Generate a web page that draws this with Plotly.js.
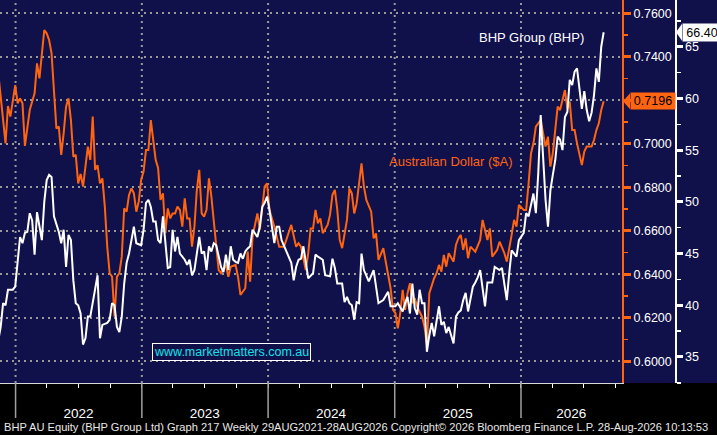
<!DOCTYPE html>
<html>
<head>
<meta charset="utf-8">
<script src="https://cdn.plot.ly/plotly-3.0.1.min.js"></script>
<style>
html,body{margin:0;padding:0;background:#000;}
#chart{width:717px;height:435px;}
</style>
</head>
<body>
<div id="chart"></div>
<script>
// ---- Australian Dollar ($A) weekly closes ----
const audDates = ['2021-11-12','2021-12-03','2021-12-10','2021-12-17','2021-12-31','2022-01-07','2022-01-14','2022-01-21','2022-01-28','2022-02-04','2022-02-11','2022-02-25','2022-03-04','2022-03-11','2022-03-18','2022-03-25','2022-04-01','2022-04-08','2022-04-15','2022-04-22','2022-04-29','2022-05-06','2022-05-13','2022-05-20','2022-05-27','2022-06-03','2022-06-10','2022-06-17','2022-06-24','2022-07-01','2022-07-08','2022-07-15','2022-07-22','2022-07-29','2022-08-05','2022-08-12','2022-08-19','2022-08-26','2022-09-02','2022-09-09','2022-09-16','2022-09-23','2022-09-30','2022-10-07','2022-10-14','2022-10-21','2022-10-28','2022-11-04','2022-11-11','2022-11-18','2022-11-25','2022-12-02','2022-12-09','2022-12-16','2022-12-23','2022-12-30','2023-01-06','2023-01-13','2023-01-20','2023-01-27','2023-02-03','2023-02-10','2023-02-17','2023-02-24','2023-03-03','2023-03-10','2023-03-17','2023-03-24','2023-03-31','2023-04-07','2023-04-14','2023-04-21','2023-04-28','2023-05-05','2023-05-12','2023-05-19','2023-05-26','2023-06-02','2023-06-09','2023-06-16','2023-06-23','2023-06-30','2023-07-07','2023-07-14','2023-07-21','2023-07-28','2023-08-04','2023-08-11','2023-08-18','2023-09-01','2023-09-08','2023-09-15','2023-09-29','2023-10-06','2023-10-13','2023-10-20','2023-10-27','2023-11-03','2023-11-10','2023-11-17','2023-12-01','2023-12-08','2023-12-22','2023-12-29','2024-01-05','2024-01-19','2024-02-02','2024-02-16','2024-02-23','2024-03-08','2024-03-22','2024-03-29','2024-04-05','2024-04-19','2024-04-26','2024-05-03','2024-05-10','2024-05-17','2024-05-24','2024-05-31','2024-06-07','2024-06-21','2024-06-28','2024-07-05','2024-07-12','2024-07-19','2024-07-26','2024-08-02','2024-08-16','2024-08-23','2024-08-30','2024-09-06','2024-09-13','2024-09-27','2024-10-04','2024-10-11','2024-10-25','2024-11-01','2024-11-08','2024-11-15','2024-11-29','2024-12-13','2024-12-20','2024-12-27','2025-01-03','2025-01-10','2025-01-17','2025-01-24','2025-01-31','2025-02-07','2025-02-14','2025-02-21','2025-02-28','2025-03-07','2025-03-21','2025-03-28','2025-04-04','2025-04-11','2025-04-25','2025-05-02','2025-05-09','2025-05-16','2025-05-23','2025-05-30','2025-06-06','2025-06-20','2025-06-27','2025-07-04','2025-07-11','2025-07-18','2025-07-25','2025-08-01','2025-08-08','2025-08-22','2025-09-05','2025-09-12','2025-09-26','2025-10-03','2025-10-10','2025-10-24','2025-10-31','2025-11-14','2025-11-21','2025-12-05','2025-12-12','2025-12-19','2025-12-26','2026-01-09','2026-01-16','2026-01-23','2026-01-30','2026-02-06','2026-02-13','2026-02-27','2026-03-06','2026-03-13','2026-03-20','2026-03-27','2026-04-03','2026-04-10','2026-04-17','2026-04-24','2026-05-01','2026-05-08','2026-05-15','2026-05-22','2026-05-29','2026-06-05','2026-06-12','2026-06-19','2026-06-26','2026-07-03','2026-07-10','2026-07-24','2026-07-31','2026-08-07','2026-08-14','2026-08-21','2026-08-28'];
const audValues = [0.7324,0.7002,0.7174,0.7125,0.7270,0.7186,0.7209,0.7186,0.6990,0.7079,0.7155,0.7232,0.7370,0.7301,0.7400,0.7523,0.7508,0.7477,0.7416,0.7217,0.7071,0.7079,0.6949,0.7048,0.7171,0.7209,0.7109,0.6941,0.6949,0.6818,0.6861,0.6803,0.6887,0.6987,0.6926,0.7125,0.6880,0.6902,0.6818,0.6841,0.6711,0.6527,0.6405,0.6389,0.6205,0.6389,0.6405,0.6481,0.6703,0.6688,0.6765,0.6795,0.6772,0.6688,0.6734,0.6834,0.6872,0.6971,0.6971,0.7109,0.7017,0.6926,0.6889,0.6742,0.6772,0.6589,0.6703,0.6657,0.6680,0.6680,0.6711,0.6696,0.6619,0.6749,0.6657,0.6657,0.6527,0.6619,0.6788,0.6880,0.6680,0.6665,0.6696,0.6841,0.6757,0.6650,0.6558,0.6420,0.6405,0.6443,0.6389,0.6435,0.6443,0.6389,0.6305,0.6320,0.6336,0.6504,0.6366,0.6573,0.6680,0.6604,0.6803,0.6818,0.6696,0.6619,0.6527,0.6527,0.6558,0.6627,0.6527,0.6543,0.6527,0.6420,0.6497,0.6611,0.6611,0.6696,0.6634,0.6657,0.6589,0.6627,0.6673,0.6765,0.6788,0.6696,0.6558,0.6520,0.6650,0.6795,0.6772,0.6680,0.6726,0.6910,0.6803,0.6742,0.6688,0.6565,0.6588,0.6466,0.6520,0.6389,0.6336,0.6236,0.6221,0.6152,0.6221,0.6328,0.6236,0.6313,0.6359,0.6267,0.6290,0.6251,0.6205,0.6159,0.6075,0.6313,0.6382,0.6405,0.6443,0.6412,0.6489,0.6435,0.6497,0.6458,0.6535,0.6565,0.6581,0.6512,0.6565,0.6474,0.6527,0.6504,0.6558,0.6650,0.6558,0.6611,0.6481,0.6512,0.6550,0.6497,0.6458,0.6581,0.6650,0.6619,0.6719,0.6696,0.6696,0.6818,0.6956,0.7002,0.7079,0.7109,0.7048,0.6987,0.7033,0.6895,0.6956,0.7063,0.7171,0.7155,0.7201,0.7247,0.7163,0.7194,0.7063,0.7063,0.7002,0.6956,0.6902,0.6964,0.6987,0.6987,0.7017,0.7063,0.7094,0.7155,0.7196];

// ---- BHP Group (BHP) weekly closes ----
const bhpDates = ['2021-11-12','2021-11-19','2021-11-26','2021-12-03','2021-12-10','2021-12-24','2021-12-31','2022-01-07','2022-01-14','2022-01-21','2022-01-28','2022-02-04','2022-02-11','2022-02-18','2022-02-25','2022-03-04','2022-03-11','2022-03-18','2022-03-25','2022-04-01','2022-04-08','2022-04-15','2022-04-22','2022-04-29','2022-05-06','2022-05-13','2022-05-20','2022-05-27','2022-06-03','2022-06-10','2022-06-17','2022-06-24','2022-07-01','2022-07-08','2022-07-15','2022-07-22','2022-07-29','2022-08-05','2022-08-19','2022-08-26','2022-09-02','2022-09-09','2022-09-23','2022-09-30','2022-10-07','2022-10-14','2022-10-21','2022-10-28','2022-11-04','2022-11-11','2022-11-18','2022-11-25','2022-12-09','2022-12-16','2022-12-30','2023-01-06','2023-01-13','2023-01-20','2023-01-27','2023-02-03','2023-02-10','2023-02-17','2023-02-24','2023-03-03','2023-03-17','2023-03-24','2023-03-31','2023-04-07','2023-04-14','2023-04-21','2023-05-05','2023-05-12','2023-05-19','2023-05-26','2023-06-02','2023-06-09','2023-06-16','2023-06-23','2023-06-30','2023-07-07','2023-07-14','2023-07-21','2023-07-28','2023-08-04','2023-08-18','2023-08-25','2023-09-01','2023-09-08','2023-09-15','2023-09-22','2023-09-29','2023-10-06','2023-10-13','2023-10-20','2023-10-27','2023-11-03','2023-11-10','2023-11-17','2023-12-01','2023-12-08','2023-12-15','2023-12-22','2023-12-29','2024-01-05','2024-01-19','2024-01-26','2024-02-02','2024-02-09','2024-02-16','2024-03-01','2024-03-08','2024-03-15','2024-03-22','2024-03-29','2024-04-05','2024-04-12','2024-04-19','2024-04-26','2024-05-10','2024-05-17','2024-05-24','2024-06-07','2024-06-14','2024-06-28','2024-07-05','2024-07-12','2024-07-19','2024-08-02','2024-08-09','2024-08-16','2024-08-23','2024-08-30','2024-09-06','2024-09-13','2024-09-20','2024-09-27','2024-10-04','2024-10-18','2024-11-01','2024-11-15','2024-11-29','2024-12-13','2024-12-20','2025-01-03','2025-01-10','2025-01-24','2025-01-31','2025-02-07','2025-02-14','2025-02-21','2025-02-28','2025-03-07','2025-03-14','2025-03-21','2025-03-28','2025-04-04','2025-04-11','2025-04-18','2025-04-25','2025-05-02','2025-05-09','2025-05-16','2025-05-23','2025-05-30','2025-06-06','2025-06-20','2025-06-27','2025-07-04','2025-07-11','2025-07-18','2025-07-25','2025-08-01','2025-08-08','2025-08-15','2025-08-22','2025-08-29','2025-09-05','2025-09-12','2025-09-19','2025-09-26','2025-10-03','2025-10-10','2025-10-17','2025-10-31','2025-11-07','2025-11-14','2025-11-21','2025-11-28','2025-12-05','2025-12-19','2025-12-26','2026-01-09','2026-01-16','2026-01-23','2026-02-06','2026-02-13','2026-02-20','2026-02-27','2026-03-06','2026-03-13','2026-03-20','2026-03-27','2026-04-03','2026-04-10','2026-04-17','2026-04-24','2026-05-01','2026-05-08','2026-05-15','2026-05-22','2026-05-29','2026-06-05','2026-06-12','2026-06-19','2026-06-26','2026-07-03','2026-07-10','2026-07-17','2026-07-24','2026-07-31','2026-08-07','2026-08-14','2026-08-21','2026-08-28'];
const bhpValues = [36.6,37.9,40.2,40.0,41.5,41.5,41.8,44.4,46.6,46.0,47.0,47.1,48.9,48.2,44.9,49.0,47.4,46.3,50.0,52.1,52.6,52.4,48.6,47.9,47.1,46.0,47.3,43.7,46.8,46.3,42.4,40.2,40.0,39.2,36.2,36.8,38.9,38.9,41.8,42.9,36.8,38.1,38.3,38.6,40.2,40.0,37.9,37.4,38.9,42.1,44.1,45.0,47.6,46.0,45.8,47.3,49.9,50.2,49.5,48.1,48.1,46.3,46.0,48.6,43.6,43.7,47.3,45.2,46.6,45.0,44.4,43.9,44.4,42.9,43.4,45.0,46.6,45.0,45.2,43.4,45.7,45.2,46.0,45.8,43.7,43.2,44.9,43.4,45.7,44.4,44.2,44.1,45.0,44.5,45.2,45.5,45.7,47.3,46.6,47.6,49.5,49.9,50.5,49.2,46.0,47.6,47.6,46.3,45.7,44.7,44.1,42.4,43.7,44.4,44.5,45.7,44.1,42.6,43.1,44.9,44.7,44.4,42.9,42.8,44.5,43.6,42.1,42.1,40.3,40.8,40.2,40.0,38.6,40.3,40.2,45.0,43.4,42.3,43.4,40.2,40.5,41.3,39.9,39.9,40.2,39.4,40.2,40.8,39.2,42.1,39.7,39.1,41.5,40.2,40.2,35.5,37.1,38.3,37.0,38.3,39.9,38.1,38.4,37.3,37.9,36.3,38.9,39.3,39.5,40.5,41.2,39.4,40.7,41.8,42.2,42.7,43.4,41.5,39.9,42.2,42.2,42.2,43.7,43.4,43.6,42.0,40.5,43.1,45.3,44.7,46.3,47.0,48.9,48.6,50.8,48.9,52.8,58.4,53.7,50.2,47.6,51.1,52.6,54.0,56.3,56.0,55.0,58.2,58.7,61.8,61.3,62.6,62.9,61.1,59.0,60.7,58.9,57.8,58.6,60.3,62.9,61.6,65.0,66.4];

// ---- axis labels / ticks ----
const yearStarts = ['2022-01-01','2023-01-01','2024-01-01','2025-01-01','2026-01-01'];
const yearLabelDates = ['2022-07-02','2023-07-02','2024-07-01','2025-07-02','2026-05-26'];
const yearLabels = ['2022','2023','2024','2025','2026'];
const audLast = '0.7196';
const bhpLast = '66.40';
const footer = 'BHP AU Equity (BHP Group Ltd) Graph 217 Weekly 29AUG2021-28AUG2026 Copyright\u00A9 2026 Bloomberg Finance L.P. 28-Aug-2026 10:13:53';

const NAVY = '#10104a';
const ORANGE = '#ff6410';
const GRID = '#9a9a9a';
const FONT = 'Liberation Sans, Arial, sans-serif';
const W = 717, H = 435, PLOT_H = 383, XR = 622;

const traces = [
  {x: audDates, y: audValues, type: 'scatter', mode: 'lines', yaxis: 'y',
   line: {color: ORANGE, width: 2}, hoverinfo: 'skip', name: 'Australian Dollar ($A)'},
  {x: bhpDates, y: bhpValues, type: 'scatter', mode: 'lines', yaxis: 'y2',
   line: {color: '#ffffff', width: 2}, hoverinfo: 'skip', name: 'BHP Group (BHP)'}
];

const shapes = [
  {type: 'rect', xref: 'paper', yref: 'paper', x0: 0, x1: 1, y0: -(H - PLOT_H) / PLOT_H, y1: 0,
   fillcolor: '#000000', line: {width: 0}, layer: 'below'}
];
yearStarts.forEach(d => {
  shapes.push({type: 'line', xref: 'x', yref: 'paper', x0: d, x1: d, y0: 0, y1: 1,
    line: {color: GRID, width: 2, dash: '2px,4px'}, layer: 'below'});
  shapes.push({type: 'line', xref: 'x', yref: 'paper', x0: d, x1: d, y0: 0, y1: -35 / PLOT_H,
    line: {color: '#a0a0a0', width: 1.5}});
});
// pointer triangles on last-value labels
shapes.push({type: 'path', xref: 'paper', xsizemode: 'pixel', xanchor: 630 / W,
  yref: 'y', ysizemode: 'pixel', yanchor: parseFloat(audLast),
  path: 'M0,-8L-7,0L0,8Z', fillcolor: ORANGE, line: {width: 0}});
shapes.push({type: 'path', xref: 'paper', xsizemode: 'pixel', xanchor: 682 / W,
  yref: 'y2', ysizemode: 'pixel', yanchor: parseFloat(bhpLast),
  path: 'M0,-8.5L-6,0L0,8.5Z', fillcolor: '#ffffff', line: {width: 0}});

const annotations = [
  {text: 'BHP Group (BHP)', xref: 'paper', yref: 'paper', x: 531.5 / W, y: (PLOT_H - 37.5) / PLOT_H,
   showarrow: false, font: {family: FONT, size: 13, color: '#ffffff'}, xanchor: 'center', yanchor: 'middle'},
  {text: 'Australian Dollar ($A)', xref: 'paper', yref: 'paper', x: 451.5 / W, y: (PLOT_H - 161.5) / PLOT_H,
   showarrow: false, font: {family: FONT, size: 13, color: ORANGE}, xanchor: 'center', yanchor: 'middle'},
  {text: 'www.marketmatters.com.au', xref: 'paper', yref: 'paper', x: 231 / W, y: (PLOT_H - 351.5) / PLOT_H,
   showarrow: false, font: {family: FONT, size: 12.5, color: '#12e2ea'}, xanchor: 'center', yanchor: 'middle',
   bgcolor: NAVY, bordercolor: '#ffffff', borderwidth: 1, borderpad: 1},
  {text: audLast, xref: 'paper', yref: 'y', x: 630 / W, y: parseFloat(audLast),
   showarrow: false, font: {family: FONT, size: 12.5, color: '#000000'}, xanchor: 'left', yanchor: 'middle',
   bgcolor: ORANGE, borderpad: 1, width: 42, height: 14},
  {text: bhpLast, xref: 'paper', yref: 'y2', x: 682 / W, y: parseFloat(bhpLast),
   showarrow: false, font: {family: FONT, size: 12.5, color: '#000000'}, xanchor: 'left', yanchor: 'middle',
   bgcolor: '#ffffff', borderpad: 1, width: 36, height: 15},
  {text: footer, xref: 'paper', yref: 'paper', x: 2 / W, y: (PLOT_H - 427) / PLOT_H,
   showarrow: false, font: {family: FONT, size: 11.1, color: '#e8e8e8'}, xanchor: 'left', yanchor: 'middle'}
];

const layout = {
  width: W, height: H,
  margin: {l: 0, r: 0, t: 0, b: H - PLOT_H, pad: 0},
  paper_bgcolor: NAVY, plot_bgcolor: NAVY,
  showlegend: false,
  font: {family: FONT, color: '#ffffff'},
  xaxis: {
    type: 'date', domain: [0, XR / W], range: ['2021-11-17', '2026-10-20'],
    tickmode: 'array', tickvals: yearLabelDates, ticktext: yearLabels,
    ticks: 'outside', ticklen: 18, tickcolor: 'rgba(0,0,0,0)',
    tickfont: {family: FONT, size: 13.5, color: '#ffffff'},
    showgrid: false, zeroline: false,
    showline: true, linecolor: '#d8d8d8', linewidth: 1,
    minor: {dtick: 'M3', tick0: '2022-01-01', ticks: 'outside', ticklen: 4, tickwidth: 1, tickcolor: '#ffffff', showgrid: false}
  },
  yaxis: {
    side: 'right', anchor: 'x', range: [0.59002, 0.76611],
    tick0: 0.6, dtick: 0.02, tickformat: '.4f',
    ticks: 'outside', ticklen: 7, tickwidth: 3, tickcolor: ORANGE,
    tickfont: {family: FONT, size: 12.5, color: '#ffffff'},
    showline: true, linecolor: ORANGE, linewidth: 2,
    showgrid: true, gridcolor: GRID, gridwidth: 2, griddash: '2px,4px',
    zeroline: false,
    minor: {dtick: 0.01, tick0: 0.6, ticks: 'outside', ticklen: 4, tickwidth: 1.5, tickcolor: ORANGE, showgrid: false}
  },
  yaxis2: {
    overlaying: 'y', side: 'right', anchor: 'free', position: 675 / W,
    range: [32.48, 69.52], tick0: 35, dtick: 5,
    ticks: 'outside', ticklen: 6, tickwidth: 3, tickcolor: '#ffffff',
    tickfont: {family: FONT, size: 12.5, color: '#ffffff'},
    showline: true, linecolor: '#ffffff', linewidth: 1.5,
    showgrid: false, zeroline: false,
    minor: {dtick: 2.5, tick0: 35, ticks: 'outside', ticklen: 4, tickwidth: 1.5, tickcolor: '#ffffff', showgrid: false}
  },
  shapes: shapes,
  annotations: annotations
};

Plotly.newPlot('chart', traces, layout, {staticPlot: true, displayModeBar: false});
</script>
</body>
</html>
